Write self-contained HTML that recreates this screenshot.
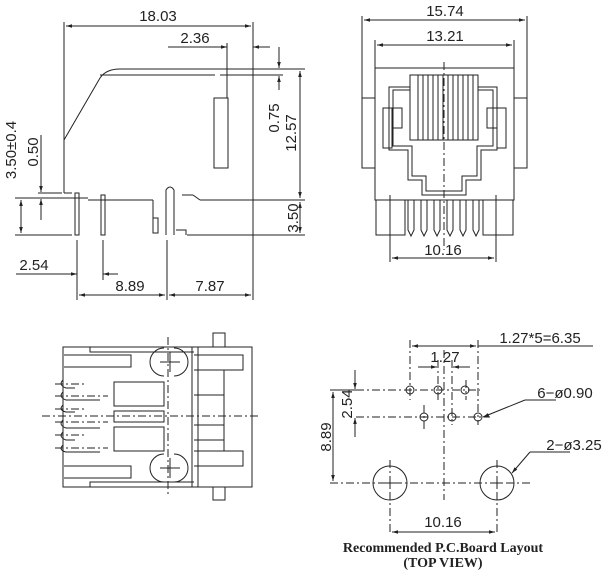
<!DOCTYPE html>
<html><head><style>
body{margin:0;background:#fff;}
svg{display:block;}
text{font-family:"Liberation Sans","DejaVu Sans",sans-serif;font-size:15px;fill:#222;}
.c{font-family:"Liberation Serif",serif;font-weight:bold;font-size:14px;}
</style></head><body>
<svg width="616" height="575" viewBox="0 0 616 575" xmlns="http://www.w3.org/2000/svg">
<defs><marker id="a" viewBox="0 0 10 10" refX="10" refY="5" markerWidth="8" markerHeight="6" orient="auto-start-reverse"><path d="M0,2L10,5L0,8z" fill="#222"/></marker></defs>
<g stroke="#222" stroke-width="1" fill="none">
<!-- side view -->
<path d="M64,140 L100,78 Q106,69 120,69 L253,69"/>
<path d="M100,75 L215,75 M220,75 L283,75"/>
<rect x="214" y="98" width="14" height="70"/>
<path d="M64,22 V193 M253,22 V300 M227,43 V98"/>
<path d="M64,193 H72 M88,200 H153 M200,200 H253 M193,195 L200,200 M182,195 H193"/>
<rect x="75" y="193" width="4" height="42"/>
<rect x="101" y="195" width="4" height="40"/>
<path d="M166,235 V190 Q170,184 174,190 V235"/>
<path d="M153,200 V218 H158 V233 H153 z M176,230 H186 V235"/>
<line x1="66" y1="26" x2="251" y2="26" marker-start="url(#a)" marker-end="url(#a)"/>
<path d="M168,47 H218" /><line x1="212" y1="47" x2="227" y2="47" marker-end="url(#a)"/><line x1="270" y1="47" x2="253" y2="47" marker-end="url(#a)"/>
<path d="M253,69 H305 M187,235 H305 M253,200 H305"/>
<line x1="279" y1="47" x2="279" y2="68" marker-end="url(#a)"/><line x1="279" y1="90" x2="279" y2="76" marker-end="url(#a)"/>
<line x1="300" y1="71" x2="300" y2="198" marker-start="url(#a)" marker-end="url(#a)"/>
<line x1="300" y1="202" x2="300" y2="233" marker-start="url(#a)" marker-end="url(#a)"/>
<path d="M38,193 H62 M15,198 H88 M15,235 H72"/>
<line x1="21" y1="200" x2="21" y2="233" marker-start="url(#a)" marker-end="url(#a)"/>
<line x1="41" y1="135" x2="41" y2="192" marker-end="url(#a)"/><line x1="41" y1="220" x2="41" y2="199" marker-end="url(#a)"/>
<path d="M77,240 V300 M103,240 V280 M167,240 V300"/>
<path d="M16,274 H70"/><line x1="65" y1="274" x2="77" y2="274" marker-end="url(#a)"/><line x1="118" y1="274" x2="103" y2="274" marker-end="url(#a)"/>
<line x1="79" y1="295" x2="165" y2="295" marker-start="url(#a)" marker-end="url(#a)"/>
<line x1="169" y1="295" x2="251" y2="295" marker-start="url(#a)" marker-end="url(#a)"/>
<!-- front view -->
<rect x="375" y="68" width="139" height="132"/>
<rect x="362" y="98" width="13" height="70"/><rect x="514" y="98" width="13" height="70"/>
<path d="M362,16 V98 M527,16 V98 M375,40 V68 M514,40 V68"/>
<line x1="364" y1="20" x2="525" y2="20" marker-start="url(#a)" marker-end="url(#a)"/>
<line x1="377" y1="45" x2="512" y2="45" marker-start="url(#a)" marker-end="url(#a)"/>
<path d="M410,87 H389 V150 H408 V180 H422 V195 H466 V180 H481 V150 H497 V87 H478"/>
<path d="M410,90 H393 V146 H412 V176 H426 V191 H462 V176 H477 V146 H493 V90 H478"/>
<rect x="410" y="75" width="68" height="65"/>
<path d="M418,75V140M423,75V140M428,75V140M433,75V140M438,75V140M443,75V140M448,75V140M453,75V140M458,75V140M463,75V140M468,75V140M473,75V140"/>
<rect x="383" y="108" width="9" height="40"/><rect x="392" y="108" width="10" height="20"/>
<rect x="497" y="108" width="9" height="40"/><rect x="487" y="108" width="10" height="20"/>
<rect x="376" y="200" width="29" height="35"/><rect x="483" y="200" width="30" height="35"/>
<path d="M408,200V230L411,236L414,230V200M421,200V230L424,236L427,230V200M434,200V230L437,236L440,230V200M447,200V230L450,236L453,230V200M460,200V230L463,236L466,230V200M473,200V230L476,236L479,230V200"/>
<path d="M390,195 V262 M496,195 V262"/>
<line x1="392" y1="258" x2="494" y2="258" marker-start="url(#a)" marker-end="url(#a)"/>
<path d="M444,62 V250" stroke-dasharray="8,3,2,3"/>
<!-- bottom view -->
<rect x="63" y="347" width="189" height="140"/>
<rect x="213" y="333" width="12" height="14"/><rect x="213" y="487" width="12" height="13"/>
<path d="M192,347V487M198,347V487M90,347V352H194M64,355H131V367H64M90,487V482H194M64,478H131V466H64"/>
<path d="M194,355H243V370H194M194,466H243V451H194M224,370V451M194,395H224M194,425H224M194,440H224"/>
<rect x="114" y="382" width="50" height="24"/><rect x="114" y="411" width="50" height="11"/><rect x="114" y="427" width="50" height="24"/>
<path d="M164,348 A14,14 0 0,0 164,376 M174,348 A14,14 0 0,1 174,376 M164,454 A14,14 0 0,0 164,482 M174,454 A14,14 0 0,1 174,482"/>
<path d="M63,380 Q58,385 66,388 H75 M63,392 Q58,397 66,400 H100 M63,405 Q58,410 66,412 H75 M63,420 Q58,425 66,428 H100 M63,432 Q58,437 66,440 H75 M63,445 Q58,450 66,452 H100"/>
<path d="M55,384H85M55,396H108M55,409H85M55,422H108M55,435H85M55,448H108M42,416H258M168,337V496" stroke-dasharray="8,3,2,3"/>
<path d="M160,362H180M170,352V372M160,468H180M170,458V478"/>
<!-- PCB -->
<circle cx="410" cy="390" r="4"/><circle cx="438" cy="390" r="4"/><circle cx="465" cy="390" r="4"/>
<circle cx="424" cy="417" r="4"/><circle cx="452" cy="417" r="4"/><circle cx="478" cy="417" r="4"/>
<circle cx="390" cy="483" r="17"/><circle cx="497" cy="483" r="17"/>
<path d="M356,390H480M356,417H490M330,483H530M444,350V500M390,460V535M497,460V535M410,340V400M478,340V425M438,360V400M452,360V425M424,405V430M466,380V400" stroke-dasharray="8,3,2,3"/>
<path d="M384,483H396M390,477V489M491,483H503M497,477V489"/>
<line x1="412" y1="346" x2="476" y2="346" marker-start="url(#a)" marker-end="url(#a)"/>
<path d="M478,346H593"/>
<line x1="418" y1="367" x2="437" y2="367" marker-end="url(#a)"/><line x1="470" y1="367" x2="453" y2="367" marker-end="url(#a)"/>
<line x1="333" y1="392" x2="333" y2="481" marker-start="url(#a)" marker-end="url(#a)"/>
<path d="M330,390H360"/>
<line x1="355" y1="370" x2="355" y2="389" marker-end="url(#a)"/><line x1="355" y1="437" x2="355" y2="418" marker-end="url(#a)"/>
<line x1="392" y1="532" x2="495" y2="532" marker-start="url(#a)" marker-end="url(#a)"/>
<path d="M556,400H525"/><line x1="525" y1="400" x2="483" y2="417" marker-end="url(#a)"/>
<path d="M570,452H530"/><line x1="530" y1="452" x2="512" y2="473" marker-end="url(#a)"/>
</g>
<text x="158" y="21" text-anchor="middle">18.03</text>
<text x="195" y="43" text-anchor="middle">2.36</text>
<text transform="translate(279,118) rotate(-90)" text-anchor="middle">0.75</text>
<text transform="translate(296,133) rotate(-90)" text-anchor="middle">12.57</text>
<text transform="translate(298,218) rotate(-90)" text-anchor="middle">3.50</text>
<text transform="translate(16,150) rotate(-90)" text-anchor="middle">3.50±0.4</text>
<text transform="translate(38,152) rotate(-90)" text-anchor="middle">0.50</text>
<text x="34" y="270" text-anchor="middle">2.54</text>
<text x="130" y="291" text-anchor="middle">8.89</text>
<text x="210" y="291" text-anchor="middle">7.87</text>
<text x="445" y="16" text-anchor="middle">15.74</text>
<text x="445" y="41" text-anchor="middle">13.21</text>
<text x="443" y="255" text-anchor="middle">10.16</text>
<text x="540" y="343" text-anchor="middle">1.27*5=6.35</text>
<text x="445" y="362" text-anchor="middle">1.27</text>
<text x="565" y="398" text-anchor="middle">6−ø0.90</text>
<text x="574" y="450" text-anchor="middle">2−ø3.25</text>
<text transform="translate(331,437) rotate(-90)" text-anchor="middle">8.89</text>
<text transform="translate(352,404) rotate(-90)" text-anchor="middle">2.54</text>
<text x="443" y="527" text-anchor="middle">10.16</text>
<text class="c" x="443" y="552" text-anchor="middle">Recommended P.C.Board Layout</text>
<text class="c" x="443" y="567" text-anchor="middle">(TOP VIEW)</text>
</svg>
</body></html>
